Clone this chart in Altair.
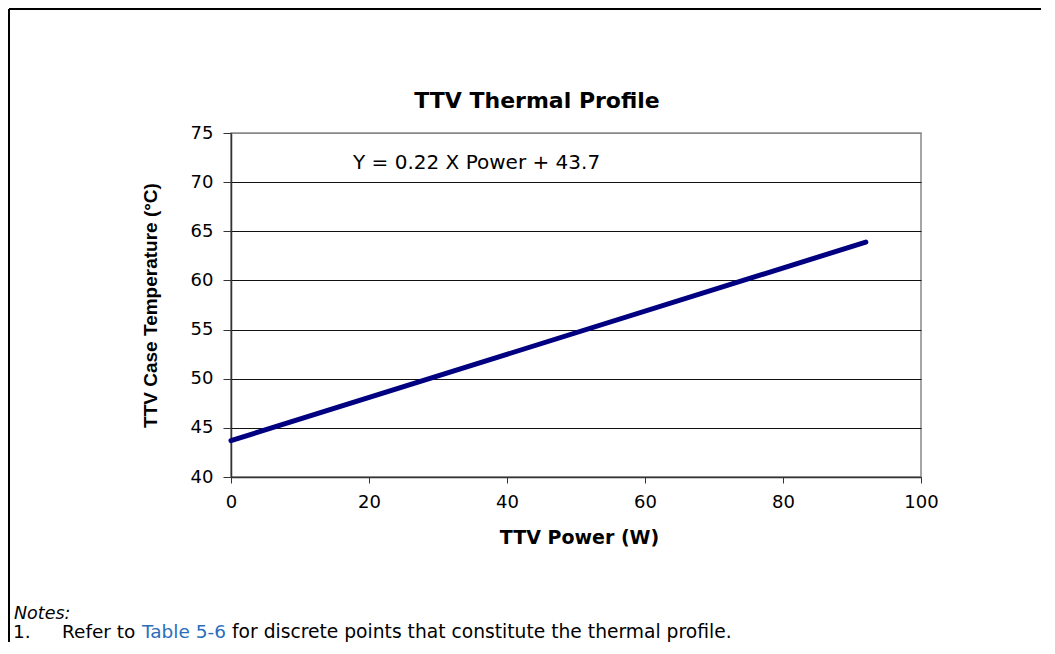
import altair as alt
import pandas as pd

# ---- data ----
power_w = [0, 92]
case_temp_c = [43.7, 63.9]

x_ticks = [0, 20, 40, 60, 80, 100]
y_ticks = [40, 45, 50, 55, 60, 65, 70, 75]

chart_title = ["TTV Thermal Profile"]
equation = ["Y = 0.22 X Power + 43.7"]
notes_head = ["Notes:"]
note_num = ["1."]
note_a = ["Refer to"]
note_link = ["Table 5-6"]
note_b = ["for discrete points that constitute the thermal profile."]

W, H = 690, 344
PAD_L, PAD_T, PAD_R, PAD_B = 223, 125, 120, 165

df = pd.DataFrame({"power": power_w, "temp": case_temp_c})

line = alt.Chart(df).mark_line(color="#000080", strokeWidth=5, strokeCap="round").encode(
    x=alt.X(
        "power:Q",
        scale=alt.Scale(domain=[0, 100], nice=False, zero=False),
        axis=alt.Axis(
            values=x_ticks,
            title="TTV Power (W)",
            titleFont="DejaVu Sans",
            titleFontSize=19,
            titleFontWeight="bold",
            titleColor="#000",
            titleX=W / 2 + 3,
            titleY=66,
            titleBaseline="alphabetic",
            titleAlign="center",
            labelFont="DejaVu Sans",
            labelFontSize=18,
            labelColor="#000",
            labelBaseline="alphabetic",
            labelPadding=24,
            labelFlush=False,
            labelOverlap=False,
            tickSize=6,
            tickColor="#333",
            domainColor="#333",
            domainWidth=1.5,
            grid=False,
        ),
    ),
    y=alt.Y(
        "temp:Q",
        scale=alt.Scale(domain=[40, 75], nice=False, zero=False),
        axis=alt.Axis(
            values=y_ticks,
            title="TTV Case Temperature (°C)",
            titleFont="Liberation Sans",
            titleFontSize=19,
            titleFontWeight="bold",
            titleColor="#000",
            titleX=-75,
            titleY=H / 2,
            titleBaseline="alphabetic",
            titleAlign="center",
            labelFont="DejaVu Sans",
            labelFontSize=18,
            labelColor="#000",
            labelPadding=10,
            labelFlush=False,
            labelOverlap=False,
            tickSize=8,
            tickColor="#333",
            domainColor="#333",
            domainWidth=1.5,
            grid=True,
            gridColor={"condition": {"test": "datum.value == 75", "value": "#888888"}, "value": "#111111"},
            gridWidth=1,
        ),
    ),
)

title = alt.Chart(pd.DataFrame({"t": chart_title})).mark_text(
    font="DejaVu Sans", fontSize=22, fontWeight="bold", color="#000",
    align="center", baseline="alphabetic"
).encode(text="t:N", x=alt.value(306), y=alt.value(-25.5))

eq = alt.Chart(pd.DataFrame({"t": equation})).mark_text(
    font="DejaVu Sans", fontSize=20, color="#000", align="left", baseline="alphabetic"
).encode(text="t:N", x=alt.value(122), y=alt.value(36.3))

def note(lst, x, y, color="#000", style="normal", size=18.5):
    return alt.Chart(pd.DataFrame({"t": lst})).mark_text(
        font="DejaVu Sans", fontSize=size, color=color, fontStyle=style,
        align="left", baseline="alphabetic"
    ).encode(text="t:N", x=alt.value(x), y=alt.value(y))

n0 = note(notes_head, -217, 485.5, style="italic", size=17.5)
n1 = note(note_num, -218, 504.5)
n2 = note(note_a, -169, 504.5)
n3 = note(note_link, -89, 504.5, color="#2a6ebb")
n4 = note(note_b, 1, 504.5, size=18.7)

one = pd.DataFrame({"k": [0]})
frame_top = alt.Chart(one).mark_rule(color="#000", strokeWidth=2).encode(
    x=alt.value(-222), x2=alt.value(W + PAD_R), y=alt.value(-124)
)
frame_left = alt.Chart(one).mark_rule(color="#000", strokeWidth=2).encode(
    x=alt.value(-222), y=alt.value(-124), y2=alt.value(H + PAD_B)
)

chart = alt.layer(line, title, eq, n0, n1, n2, n3, n4, frame_top, frame_left).properties(
    width=W,
    height=H,
    autosize=alt.AutoSizeParams(type="none"),
    padding={"left": PAD_L, "top": PAD_T, "right": PAD_R, "bottom": PAD_B},
    background="white",
).configure_view(stroke="#888888", strokeWidth=1.5)

chart.save("out.html", embed_options={"renderer": "svg", "actions": False})
